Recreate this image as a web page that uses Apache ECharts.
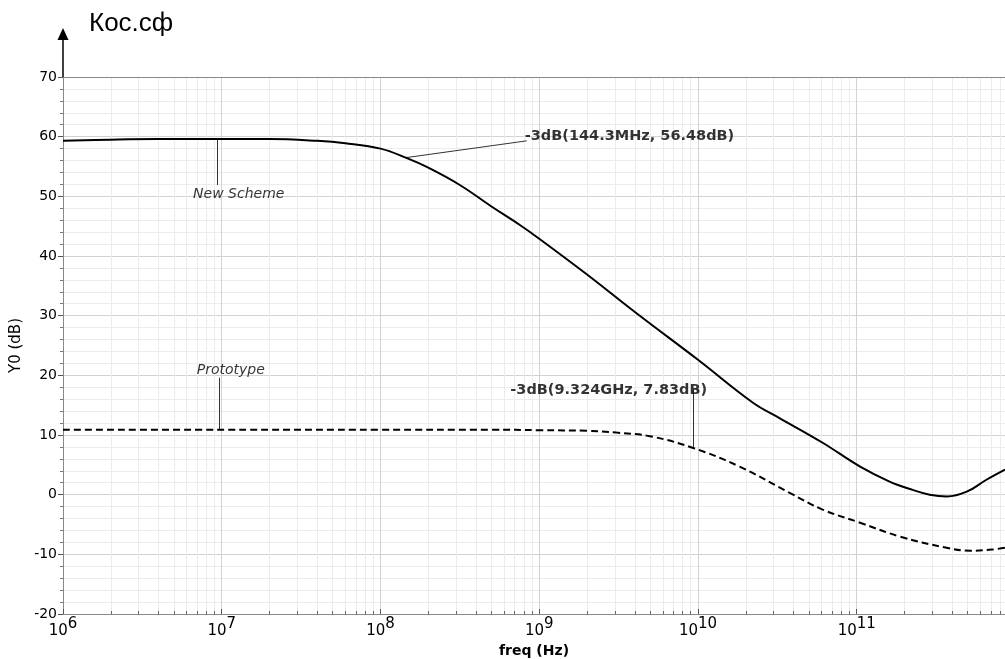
<!DOCTYPE html>
<html><head><meta charset="utf-8">
<script src="https://cdn.jsdelivr.net/npm/echarts@6/dist/echarts.min.js"></script>
<style>html,body{margin:0;padding:0;background:#fff}#c{width:1005px;height:659px}</style>
</head><body><div id="c"></div>
<script>
// ---- data ----
const newSchemeFreq = [1e6, 2e6, 4e6, 1e7, 2e7, 4e7, 6e7, 1e8, 1.443e8, 2e8, 3.16e8, 5e8, 7.55e8, 1e9, 2e9, 4.1e9, 1e10, 2.22e10, 3.28e10, 6.1e10, 1.05e11, 1.61e11, 2.25e11, 2.88e11, 3.69e11, 4.93e11, 6.56e11, 8.59e11];
const newSchemeDb   = [59.3, 59.5, 59.6, 59.6, 59.6, 59.3, 58.9, 58.0, 56.48, 54.8, 51.9, 48.3, 45.2, 42.9, 36.9, 30.4, 22.6, 15.4, 12.8, 8.7, 4.7, 2.2, 0.8, 0.0, -0.3, 0.5, 2.5, 4.2];
const prototypeFreq = [1e6, 1e7, 1e8, 5e8, 1e9, 2e9, 3.07e9, 4.98e9, 9.324e9, 1.83e10, 3.78e10, 6.1e10, 1.05e11, 1.86e11, 3.69e11, 5.2e11, 7.1e11, 8.59e11];
const prototypeDb   = [10.9, 10.9, 10.9, 10.9, 10.8, 10.7, 10.4, 9.8, 7.83, 4.7, 0.3, -2.5, -4.7, -7.0, -8.9, -9.4, -9.2, -8.9];
const seriesNames = ['New Scheme', 'Prototype'];
const marker1 = { freq: 144.3e6, db: 56.48, text: '-3dB(144.3MHz, 56.48dB)' };
const marker2 = { freq: 9.324e9, db: 7.83, text: '-3dB(9.324GHz, 7.83dB)' };
const xMin = 1e6, xMax = 8.59e11;
const yMin = -20, yMax = 70, yStep = 10;
const titleText = 'Кос.сф';
const xName = 'freq (Hz)';
const yName = 'Y0 (dB)';

// minor (2..9 × decade) grid values
const minorX = [];
for (let k = 6; k <= 11; k++) for (let m = 2; m <= 9; m++) { const v = m * Math.pow(10, k); if (v < xMax) minorX.push(v); }

const pair = (xs, ys) => xs.map((x, i) => [x, ys[i]]);
const FONT = 'DejaVu Sans';

const chart = echarts.init(document.getElementById('c'), null, { renderer: 'canvas' });
chart.setOption({
  animation: false,
  backgroundColor: '#fff',
  grid: { left: 63, top: 77, right: 0, bottom: 45, containLabel: false, outerBoundsMode: 'none' },
  xAxis: {
    type: 'log', logBase: 10, min: xMin, max: xMax,
    name: xName, nameLocation: 'middle', nameGap: 29,
    nameTextStyle: { fontFamily: FONT, fontSize: 14, fontWeight: 'bold', color: '#000' },
    axisLine: { show: true, onZero: false, lineStyle: { color: '#888', width: 1 } },
    axisTick: { show: true, inside: true, length: 5, lineStyle: { color: '#555' } },
    splitLine: { show: true, lineStyle: { color: '#d2d2d2', width: 1 } },
    axisLabel: {
      margin: 9,
      formatter: function (v) {
        const l = Math.log10(v); const r = Math.round(l);
        if (Math.abs(l - r) > 1e-6) return '';
        return '{b|10}{e|' + r + '}';
      },
      rich: {
        b: { fontFamily: FONT, fontSize: 15, color: '#000', lineHeight: 16, verticalAlign: 'bottom' },
        e: { fontFamily: FONT, fontSize: 15, color: '#000', lineHeight: 16, padding: [0, 0, 7, 0], verticalAlign: 'bottom' }
      }
    }
  },
  yAxis: {
    type: 'value', min: yMin, max: yMax, interval: yStep,
    name: yName, nameLocation: 'middle', nameGap: 37, nameRotate: 90,
    nameTextStyle: { fontFamily: FONT, fontSize: 15, color: '#000' },
    axisLine: { show: true, lineStyle: { color: '#888', width: 1 } },
    axisTick: { show: true, length: 5, lineStyle: { color: '#555' } },
    minorTick: { show: true, splitNumber: 5, length: 3, lineStyle: { color: '#777' } },
    splitLine: { show: true, lineStyle: { color: '#d2d2d2', width: 1 } },
    minorSplitLine: { show: true, lineStyle: { color: '#ececec', width: 1 } },
    axisLabel: { fontFamily: FONT, fontSize: 14, color: '#000', margin: 6 }
  },
  graphic: [
    { type: 'line', z: 100, shape: { x1: 63, y1: 40, x2: 63, y2: 77 }, style: { stroke: '#000', lineWidth: 1.5 } },
    { type: 'polygon', z: 100, shape: { points: [[63, 28], [57.5, 40], [68.5, 40]] }, style: { fill: '#000' } },
    { type: 'text', z: 100, left: 89, top: 11, style: { text: titleText, fontFamily: 'Liberation Sans', fontSize: 26, fill: '#000' } }
  ],
  series: [
    {
      name: 'grid', type: 'line', data: [], z: 1, silent: true,
      markLine: {
        silent: true, symbol: 'none', animation: false,
        label: { show: false },
        lineStyle: { color: '#ececec', width: 1, type: 'solid' },
        data: minorX.map(v => ({ xAxis: v }))
          .concat(minorX.map(v => [{ coord: [v, yMin], lineStyle: { color: '#666' } }, { coord: [v, yMin + 0.5], lineStyle: { color: '#666' } }]))
          .concat([{ yAxis: yMax, lineStyle: { color: '#888', width: 1 } }])
      }
    },
    {
      name: seriesNames[0], type: 'line', data: pair(newSchemeFreq, newSchemeDb), z: 5,
      showSymbol: false, smooth: 0.4,
      lineStyle: { color: '#000', width: 2 },
      markLine: {
        silent: true, symbol: 'none', animation: false, label: { show: false },
        lineStyle: { color: '#333', width: 1, type: 'solid' },
        data: [
          [{ coord: [9.4e6, 59.6] }, { coord: [9.4e6, 51.9] }],
          [{ coord: [marker1.freq, marker1.db] }, { coord: [8.34e8, 59.3] }]
        ]
      }
    },
    {
      name: seriesNames[1], type: 'line', data: pair(prototypeFreq, prototypeDb), z: 5,
      showSymbol: false, smooth: 0.4,
      lineStyle: { color: '#000', width: 2, type: [7, 4] },
      markLine: {
        silent: true, symbol: 'none', animation: false, label: { show: false },
        lineStyle: { color: '#333', width: 1, type: 'solid' },
        data: [
          [{ coord: [9.7e6, 19.6] }, { coord: [9.7e6, 10.9] }],
          [{ coord: [marker2.freq, marker2.db] }, { coord: [marker2.freq, 17.6] }]
        ]
      }
    },
    {
      name: 'labels', type: 'scatter', symbolSize: 0, z: 10, silent: true,
      data: [
        { value: [1.28e7, 50.3], label: { show: true, position: 'inside', formatter: seriesNames[0], fontFamily: FONT, fontSize: 14, fontStyle: 'italic', color: '#000' } },
        { value: [1.14e7, 20.8], label: { show: true, position: 'inside', formatter: seriesNames[1], fontFamily: FONT, fontSize: 14, fontStyle: 'italic', color: '#000' } },
        { value: [8.1e8, 60.0], label: { show: true, position: 'right', distance: 0, formatter: marker1.text, fontFamily: FONT, fontSize: 14.5, fontWeight: 'bold', color: '#000' } },
        { value: [2.74e9, 17.5], label: { show: true, position: 'inside', formatter: marker2.text, fontFamily: FONT, fontSize: 14.5, fontWeight: 'bold', color: '#000' } }
      ]
    }
  ]
});
</script>
</body></html>
